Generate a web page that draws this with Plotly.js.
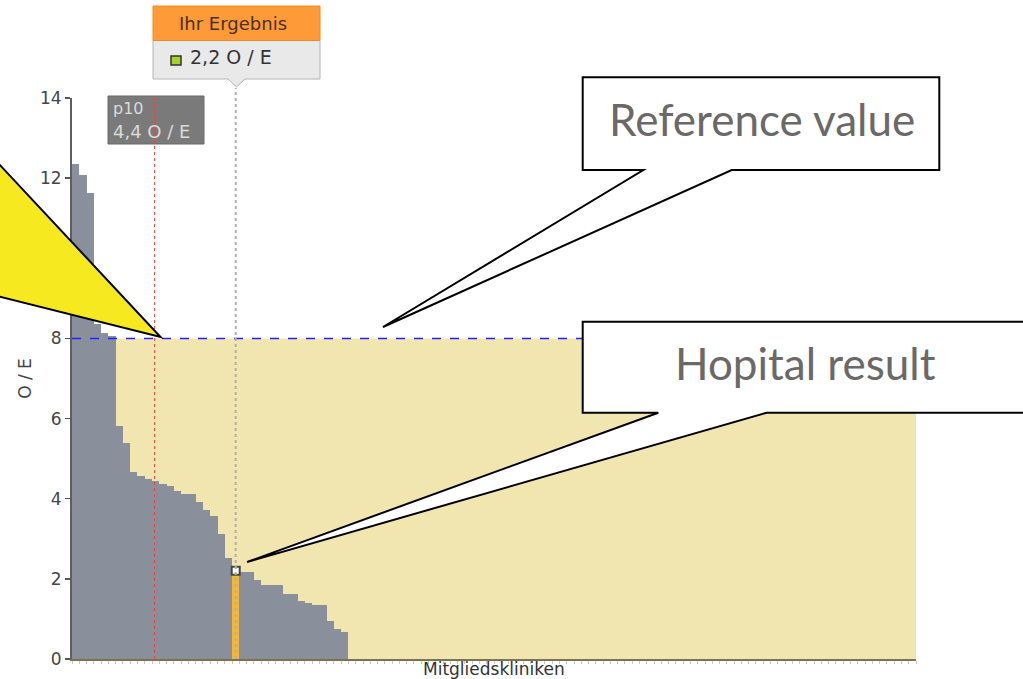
<!DOCTYPE html>
<html>
<head>
<meta charset="utf-8">
<script src="https://cdn.plot.ly/plotly-3.0.1.min.js"></script>
<style>html,body{margin:0;padding:0;background:#fff;}#chart{width:1023px;height:679px;}</style>
</head>
<body>
<div id="chart"></div>
<script>
// ---- data ----
const totalClinics = 116;
const oeValues = [12.35, 12.08, 11.62, 8.35, 8.13, 8.05, 5.81, 5.40, 4.67, 4.57,
                  4.49, 4.44, 4.37, 4.32, 4.20, 4.12, 4.12, 3.93, 3.71, 3.56,
                  3.11, 2.52, 2.20, 2.17, 2.17, 1.97, 1.84, 1.84, 1.84, 1.63,
                  1.63, 1.44, 1.39, 1.35, 1.35, 0.94, 0.75, 0.68];
const ownIndex = 22;
const ownValue = 2.2;
const referenceValue = 8;
const p10Position = 11.35;
const p10Value = 4.4;
const yTicks = [0, 2, 4, 6, 8, 10, 12, 14];
const ownLabel = "Ihr Ergebnis";
const ownText = "2,2 O / E";
const p10Label = "p10";
const p10Text = "4,4 O / E";
const xTitle = "Mitgliedskliniken";
const yTitle = "O / E";
const calloutRef = "Reference value";
const calloutHosp = "Hopital result";

// ---- geometry helpers (pixel -> paper) ----
const PL = 72, PR = 916, PT = 98, PB = 659;
const fx = x => (x - PL) / (PR - PL);
const fy = y => (PB - y) / (PB - PT);
const poly = pts => 'M' + pts.map(p => fx(p[0]) + ',' + fy(p[1])).join(' L') + ' Z';

const xs = oeValues.map((v, i) => i + 0.5);
const colors = oeValues.map((v, i) => i === ownIndex ? '#F5B730' : '#8A909B');

const traces = [
  {type: 'bar', x: xs, y: oeValues, width: 1, marker: {color: colors, line: {width: 0}},
   hoverinfo: 'skip', showlegend: false},
  {type: 'scatter', mode: 'markers', x: [ownIndex + 0.5], y: [ownValue],
   marker: {symbol: 'square', size: 8, color: '#ffffff', line: {color: '#444', width: 2}},
   hoverinfo: 'skip', showlegend: false, cliponaxis: false}
];

const shapes = [
  // tan area below the reference value
  {type: 'rect', layer: 'below', xref: 'x', yref: 'y', x0: 0, x1: totalClinics, y0: 0, y1: referenceValue,
   fillcolor: '#F2E6B0', line: {width: 0}},
  // reference line
  {type: 'line', layer: 'above', xref: 'x', yref: 'y', x0: 0, x1: totalClinics, y0: referenceValue, y1: referenceValue,
   line: {color: '#2222ff', width: 1.5, dash: 'dash'}},
  // own result vertical dotted line
  {type: 'line', layer: 'above', xref: 'x', yref: 'paper', x0: ownIndex + 0.5, x1: ownIndex + 0.5, y0: 0, y1: fy(88),
   line: {color: '#b0b0b0', width: 2, dash: 'dot'}},
  // p10 box
  {type: 'rect', layer: 'above', xref: 'paper', yref: 'paper', x0: fx(108), x1: fx(204), y0: fy(144), y1: fy(96),
   fillcolor: '#7A7A7A', line: {color: '#6a6a6a', width: 1}},
  // p10 line
  {type: 'line', layer: 'above', xref: 'x', yref: 'paper', x0: p10Position, x1: p10Position, y0: 0, y1: fy(96),
   line: {color: '#ff3b3b', width: 1, dash: 'dot'}},
  // Ihr Ergebnis tooltip
  {type: 'path', layer: 'above', xref: 'paper', yref: 'paper',
   path: poly([[153, 40.5], [320, 40.5], [320, 79], [245, 79], [236.5, 87], [228, 79], [153, 79]]),
   fillcolor: '#E9E9E9', line: {color: '#B4B4B4', width: 1}},
  {type: 'rect', layer: 'above', xref: 'paper', yref: 'paper', x0: fx(153), x1: fx(320), y0: fy(40.5), y1: fy(6),
   fillcolor: '#FF9A38', line: {color: '#F08A2A', width: 1}},
  {type: 'rect', layer: 'above', xref: 'paper', yref: 'paper', x0: fx(171), x1: fx(181), y0: fy(65), y1: fy(56),
   fillcolor: '#A6D12B', line: {color: '#333', width: 1.5}},
  // yellow callout wedge
  {type: 'path', layer: 'above', xref: 'paper', yref: 'paper',
   path: poly([[-20, 143.7], [160.5, 337], [-20, 291.7]]),
   fillcolor: '#F7E920', line: {color: '#000', width: 2}},
  // Reference value callout
  {type: 'path', layer: 'above', xref: 'paper', yref: 'paper',
   path: poly([[582.7, 77.3], [939.3, 77.3], [939.3, 170], [731.7, 170], [383, 327], [643.3, 170], [582.7, 170]]),
   fillcolor: '#ffffff', line: {color: '#000', width: 2}},
  // Hospital result callout
  {type: 'path', layer: 'above', xref: 'paper', yref: 'paper',
   path: poly([[582.7, 321.7], [1040, 321.7], [1040, 412.7], [766.7, 412.7], [247, 562], [658.3, 412.7], [582.7, 412.7]]),
   fillcolor: '#ffffff', line: {color: '#000', width: 2}}
];

const annotations = [
  {xref: 'paper', yref: 'paper', x: fx(233), y: fy(23.5), text: ownLabel, showarrow: false,
   xanchor: 'center', yanchor: 'middle', font: {family: 'DejaVu Sans', size: 18, color: '#4A3018'}},
  {xref: 'paper', yref: 'paper', x: fx(188), y: fy(57), text: ownText, showarrow: false,
   xanchor: 'left', yanchor: 'middle', font: {family: 'DejaVu Sans', size: 19, color: '#333'}},
  {xref: 'paper', yref: 'paper', x: fx(111), y: fy(108), text: p10Label, showarrow: false,
   xanchor: 'left', yanchor: 'middle', font: {family: 'DejaVu Sans', size: 16, color: '#DADADA'}},
  {xref: 'paper', yref: 'paper', x: fx(111), y: fy(132), text: p10Text, showarrow: false,
   xanchor: 'left', yanchor: 'middle', font: {family: 'DejaVu Sans', size: 18, color: '#DADADA'}},
  {xref: 'paper', yref: 'paper', x: fx(762), y: fy(119), text: calloutRef, showarrow: false,
   xanchor: 'center', yanchor: 'middle', font: {family: 'Lato', size: 44, color: '#6B6868'}},
  {xref: 'paper', yref: 'paper', x: fx(805), y: fy(363), text: calloutHosp, showarrow: false,
   xanchor: 'center', yanchor: 'middle', font: {family: 'Lato', size: 44, color: '#6B6868'}},
  {xref: 'paper', yref: 'paper', x: fx(494), y: fy(669), text: xTitle, showarrow: false,
   xanchor: 'center', yanchor: 'middle', font: {family: 'DejaVu Sans', size: 17, color: '#333'}}
];

const layout = {
  width: 1023, height: 679,
  margin: {l: PL, r: 1023 - PR, t: PT, b: 679 - PB, pad: 0},
  paper_bgcolor: '#ffffff', plot_bgcolor: '#ffffff',
  font: {family: 'DejaVu Sans', color: '#444'},
  bargap: 0,
  showlegend: false,
  hovermode: false,
  xaxis: {range: [0, totalClinics], showgrid: false, zeroline: false, showticklabels: false,
          ticks: 'outside', ticklen: 3, tickwidth: 1, tickcolor: '#c8c8c8', tick0: 0, dtick: 1,
          showline: true, linecolor: '#7D7350', linewidth: 2, fixedrange: true},
  yaxis: {range: [0, 14], tickvals: yTicks, ticktext: yTicks.map(String), showgrid: false, zeroline: false,
          ticks: 'outside', ticklen: 5, tickwidth: 1.5, tickcolor: '#555',
          showline: true, linecolor: '#5E5E5E', linewidth: 2,
          tickfont: {family: 'DejaVu Sans', size: 17, color: '#444'},
          title: {text: yTitle, font: {family: 'DejaVu Sans', size: 17, color: '#444'}, standoff: 4},
          fixedrange: true},
  shapes: shapes,
  annotations: annotations
};

Plotly.newPlot('chart', traces, layout, {displayModeBar: false, staticPlot: true});
</script>
</body>
</html>
